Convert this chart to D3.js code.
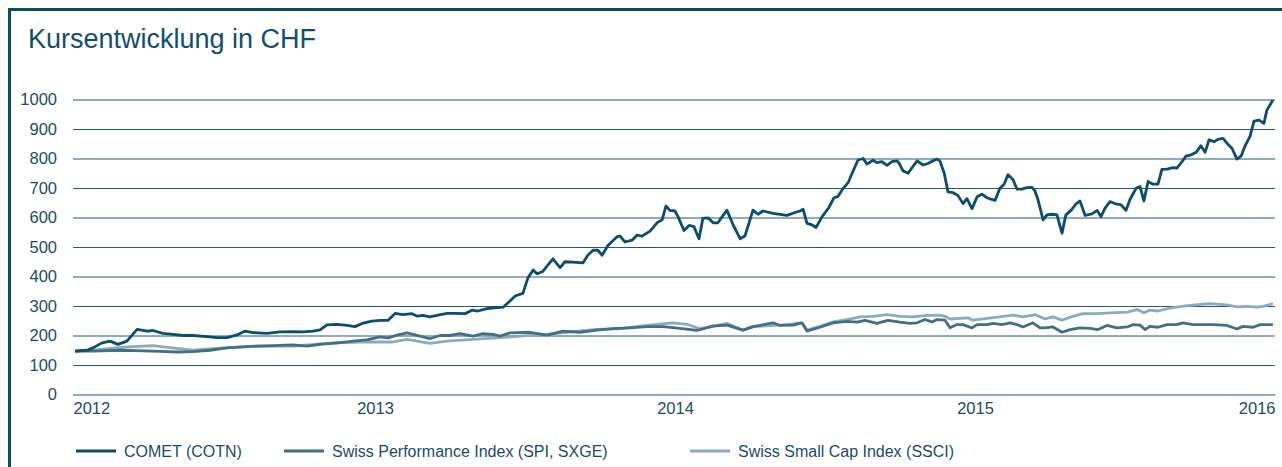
<!DOCTYPE html>
<html>
<head>
<meta charset="utf-8">
<script src="https://cdn.jsdelivr.net/npm/d3@7/dist/d3.min.js"></script>
<style>
    body { margin: 0; background: #fff; }
    text { font-family: "Liberation Sans Narrow", "Arial Narrow", sans-serif; fill: #174d6b; }
    .title, .legend text { font-family: "Liberation Sans", Arial, sans-serif; }
</style>
</head>
<body>
<script>
// values, time given as decimal year
var cometTime = [
    2012.000, 2012.040, 2012.060, 2012.090, 2012.117, 2012.143, 2012.173, 2012.207, 2012.240, 2012.260,
    2012.293, 2012.327, 2012.360, 2012.393, 2012.440, 2012.473, 2012.507, 2012.540, 2012.567, 2012.593,
    2012.640, 2012.683, 2012.727, 2012.760, 2012.793, 2012.817, 2012.840, 2012.873, 2012.907, 2012.933,
    2012.957, 2012.990,
    2013.017, 2013.043, 2013.067, 2013.093, 2013.123, 2013.140, 2013.160, 2013.183, 2013.210, 2013.240,
    2013.273, 2013.300, 2013.323, 2013.343, 2013.373, 2013.400, 2013.427, 2013.450, 2013.467, 2013.493,
    2013.510, 2013.527, 2013.540, 2013.560, 2013.593, 2013.617, 2013.633, 2013.660, 2013.693, 2013.710,
    2013.727, 2013.743, 2013.757, 2013.777, 2013.807, 2013.817, 2013.833, 2013.857, 2013.873, 2013.890,
    2013.917, 2013.940, 2013.957, 2013.970, 2013.983,
    2014.000, 2014.010, 2014.030, 2014.047, 2014.063, 2014.080, 2014.093, 2014.110, 2014.127, 2014.143,
    2014.173, 2014.193, 2014.217, 2014.233, 2014.260, 2014.277, 2014.293, 2014.327, 2014.373, 2014.400,
    2014.417, 2014.427, 2014.440, 2014.457, 2014.470, 2014.490, 2014.513, 2014.530, 2014.543, 2014.560,
    2014.577, 2014.593, 2014.610, 2014.627, 2014.640, 2014.660, 2014.673, 2014.690, 2014.707, 2014.723,
    2014.740, 2014.747, 2014.760, 2014.777, 2014.793, 2014.807, 2014.827, 2014.843, 2014.860, 2014.873,
    2014.883, 2014.897, 2014.910, 2014.927, 2014.943, 2014.960, 2014.973, 2014.990,
    2015.007, 2015.023, 2015.040, 2015.053, 2015.067, 2015.083, 2015.097, 2015.110, 2015.127, 2015.140,
    2015.157, 2015.173, 2015.190, 2015.200, 2015.210, 2015.227, 2015.240, 2015.257, 2015.273, 2015.290,
    2015.303, 2015.320, 2015.337, 2015.350, 2015.367, 2015.390, 2015.407, 2015.420, 2015.433, 2015.450,
    2015.470, 2015.487, 2015.503, 2015.517, 2015.537, 2015.550, 2015.563, 2015.577, 2015.593, 2015.610,
    2015.623, 2015.640, 2015.660, 2015.673, 2015.690, 2015.703, 2015.720, 2015.737, 2015.753, 2015.767,
    2015.780, 2015.797, 2015.810, 2015.827, 2015.843, 2015.857, 2015.873, 2015.887, 2015.900, 2015.917,
    2015.930, 2015.947, 2015.963, 2015.973, 2015.993
];
var cometValues = [
    147, 150, 158, 175, 181, 170, 181, 221, 215, 217,
    207, 204, 200, 200, 196, 193, 193, 202, 215, 210,
    207, 212, 213, 212, 215, 219, 236, 238, 234, 230,
    241, 249,
    251, 251, 275, 271, 274, 266, 268, 263, 269, 275,
    275, 274, 286, 283, 291, 294, 296, 317, 334, 343,
    396, 422, 409, 418, 460, 430, 450, 449, 446, 473,
    489, 489, 472, 506, 535, 537, 517, 523, 540, 537,
    554, 582, 592, 639, 624,
    622, 603, 556, 573, 569, 528, 597, 599, 582, 582,
    625, 577, 528, 537, 625, 611, 622, 614, 607, 617,
    622, 628, 580, 575, 566, 602, 634, 667, 671, 698,
    718, 756, 795, 800, 781, 794, 786, 789, 777, 789,
    792, 784, 758, 750, 773, 792, 778, 783, 792, 798,
    792, 752, 687, 684, 675, 647, 664, 630,
    670, 679, 667, 662, 658, 699, 713, 745, 728, 696,
    696, 701, 702, 690, 660, 592, 609, 611, 609, 547,
    609, 624, 646, 656, 607, 612, 624, 603, 631, 654,
    646, 643, 624, 662, 699, 705, 656, 722, 713, 713,
    763, 764, 769, 767, 789, 808, 812, 821, 843, 821,
    863, 857, 865, 868, 848, 834, 798, 808, 842, 876,
    927, 930, 919, 964, 998
];

var spiTime = [
    2012.000, 2012.060, 2012.150, 2012.227, 2012.283, 2012.340, 2012.393, 2012.450, 2012.507, 2012.583,
    2012.640, 2012.727, 2012.773, 2012.817, 2012.873, 2012.927, 2012.973,
    2013.017, 2013.043, 2013.077, 2013.107, 2013.150, 2013.183, 2013.217, 2013.250, 2013.283, 2013.327,
    2013.360, 2013.393, 2013.417, 2013.450, 2013.517, 2013.573, 2013.627, 2013.683, 2013.740, 2013.793,
    2013.850, 2013.907, 2013.960,
    2014.017, 2014.073, 2014.127, 2014.173, 2014.227, 2014.260, 2014.327, 2014.350, 2014.393, 2014.423,
    2014.440, 2014.483, 2014.527, 2014.573, 2014.607, 2014.633, 2014.673, 2014.710, 2014.750, 2014.783,
    2014.807, 2014.833, 2014.857, 2014.873, 2014.900, 2014.917, 2014.940, 2014.960, 2014.990,
    2015.007, 2015.040, 2015.060, 2015.090, 2015.117, 2015.140, 2015.160, 2015.193, 2015.217, 2015.233,
    2015.260, 2015.290, 2015.317, 2015.350, 2015.383, 2015.410, 2015.440, 2015.473, 2015.507, 2015.527,
    2015.550, 2015.567, 2015.583, 2015.610, 2015.640, 2015.673, 2015.693, 2015.727, 2015.760, 2015.793,
    2015.840, 2015.873, 2015.893, 2015.927, 2015.950, 2015.993
];
var spiValues = [
    147, 147, 150, 148, 146, 144, 145, 150, 158, 163,
    165, 168, 164, 170, 175, 181, 185,
    195, 192, 202, 209, 198, 189, 200, 200, 206, 198,
    206, 204, 198, 209, 211, 201, 215, 211, 218, 223,
    226, 230, 230,
    224, 217, 232, 235, 218, 230, 243, 234, 235, 243,
    215, 228, 243, 248, 245, 251, 241, 251, 245, 241,
    243, 254, 246, 254, 252, 226, 237, 237, 226,
    237, 237, 241, 237, 243, 237, 229, 243, 226, 226,
    229, 211, 220, 226, 224, 220, 234, 226, 229, 237,
    235, 220, 231, 228, 237, 237, 243, 237, 237, 237,
    234, 222, 231, 228, 237, 237
];

var ssciTime = [
    2012.000, 2012.060, 2012.173, 2012.260, 2012.317, 2012.393, 2012.507, 2012.617, 2012.727, 2012.840,
    2012.950,
    2013.017, 2013.060, 2013.107, 2013.183, 2013.240, 2013.327, 2013.407, 2013.483, 2013.573, 2013.640,
    2013.740, 2013.817, 2013.907, 2013.993,
    2014.040, 2014.083, 2014.173, 2014.227, 2014.260, 2014.350, 2014.423, 2014.440, 2014.483, 2014.527,
    2014.573, 2014.617, 2014.660, 2014.707, 2014.750, 2014.793, 2014.840, 2014.883, 2014.900, 2014.917,
    2014.950, 2014.977, 2014.993,
    2015.040, 2015.083, 2015.127, 2015.160, 2015.200, 2015.233, 2015.260, 2015.290, 2015.317, 2015.360,
    2015.407, 2015.450, 2015.507, 2015.540, 2015.563, 2015.583, 2015.610, 2015.650, 2015.707, 2015.783,
    2015.840, 2015.873, 2015.907, 2015.940, 2015.960, 2015.993
];
var ssciValues = [
    147, 150, 161, 166, 159, 150, 159, 164, 164, 173,
    178,
    178, 178, 187, 173, 181, 187, 192, 198, 204, 211,
    221, 223, 234, 243,
    238, 223, 241, 218, 230, 235, 243, 218, 231, 246,
    254, 263, 265, 271, 265, 263, 268, 269, 265, 256,
    258, 260, 252,
    258, 263, 269, 263, 271, 256, 263, 252, 262, 274,
    274, 277, 279, 288, 277, 286, 283, 293, 301, 308,
    304, 297, 299, 296, 299, 308
];

var yTicks = [0, 100, 200, 300, 400, 500, 600, 700, 800, 900, 1000];
var yearTicks = [2012, 2013, 2014, 2015, 2016];
var seriesNames = ["COMET (COTN)", "Swiss Performance Index (SPI, SXGE)", "Swiss Small Cap Index (SSCI)"];
var seriesColors = ["#0b4d6e", "#426f86", "#88abc0"];
var chartTitle = "Kursentwicklung in CHF";

// dimensions of the page and the plot area
var width = 1282, height = 467;
var margin = { top: 99.5, right: 7, bottom: 72.5, left: 75 };

var x = d3.scaleLinear().domain([2012, 2016]).range([margin.left, width - margin.right]);
var y = d3.scaleLinear().domain([0, 1000]).range([height - margin.bottom, margin.top]);

var svg = d3.select("body").append("svg")
    .attr("width", width)
    .attr("height", height);

// frame, open at the right and bottom
svg.append("path")
    .attr("d", "M9.5," + height + "V9.5H" + width)
    .attr("fill", "none")
    .attr("stroke", "#0d4c6b")
    .attr("stroke-width", 3);

svg.append("text")
    .attr("class", "title")
    .attr("x", 28)
    .attr("y", 48)
    .style("font-size", "27px")
    .style("fill", "#10506f")
    .text(chartTitle);

// y axis with grid lines
var yAxis = svg.append("g")
    .attr("transform", "translate(73,0)")
    .call(d3.axisLeft(y).tickValues(yTicks).tickFormat(d3.format("d"))
        .tickSize(-(width - margin.right - 73)).tickPadding(16));
yAxis.select(".domain").remove();
yAxis.selectAll(".tick line").attr("stroke", "#1f5b7c").attr("stroke-width", 1);
yAxis.selectAll(".tick text").style("font-size", "16.5px").attr("fill", "#174d6b");

// x axis, year labels only
var xAxis = svg.append("g")
    .attr("transform", "translate(0," + y(0) + ")")
    .call(d3.axisBottom(x).tickValues(yearTicks).tickSize(0).tickPadding(8).tickFormat(d3.format("d")));
xAxis.select(".domain").remove();
xAxis.selectAll(".tick text")
    .style("font-size", "16.5px")
    .attr("fill", "#174d6b")
    .attr("text-anchor", function (d, i) { return i === 0 ? "start" : (i === yearTicks.length - 1 ? "end" : "middle"); })
    .attr("dx", function (d, i) { return i === 0 ? -2 : 0; });

// lines
var line = d3.line()
    .x(function (d) { return x(d[0]); })
    .y(function (d) { return y(d[1]); });

var series = [
    d3.zip(cometTime, cometValues),
    d3.zip(spiTime, spiValues),
    d3.zip(ssciTime, ssciValues)
];

[2, 1, 0].forEach(function (i) {
    svg.append("path")
        .datum(series[i])
        .attr("fill", "none")
        .attr("stroke", seriesColors[i])
        .attr("stroke-width", 2.8)
        .attr("stroke-linejoin", "round")
        .attr("d", line);
});

// legend
var legendX = [76, 284, 690];
var legend = svg.append("g").attr("class", "legend");
seriesNames.forEach(function (name, i) {
    var g = legend.append("g").attr("transform", "translate(" + legendX[i] + ",451)");
    g.append("line")
        .attr("x1", 0).attr("x2", 40)
        .attr("stroke", seriesColors[i])
        .attr("stroke-width", 3);
    g.append("text")
        .attr("x", 48)
        .attr("dy", "0.35em")
        .style("font-size", "16px")
        .text(name);
});
</script>
</body>
</html>
